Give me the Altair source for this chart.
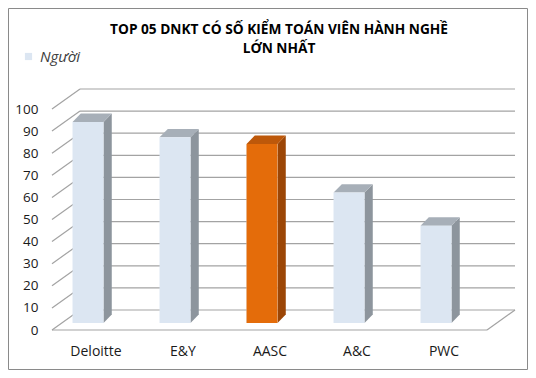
import altair as alt
import pandas as pd

# ---- data ----
categories = ["Deloitte", "E&Y", "AASC", "A&C", "PWC"]
values = [91, 84, 81, 59, 44]
highlight = "AASC"
series_name = "Người"
y_ticks = [0, 10, 20, 30, 40, 50, 60, 70, 80, 90, 100]
title_lines = ["TOP 05 DNKT CÓ SỐ KIỂM TOÁN VIÊN HÀNH NGHỀ", "LỚN NHẤT"]

# ---- style / pseudo-3D geometry (in scale units) ----
W, H = 435, 221
WALL_DX, WALL_DY = 0.322, 9.05      # depth of back wall
BAR_C, BAR_W = 0.414, 0.356          # bar centre within band, bar width
BAR_B = 3.17                         # bar sits slightly behind front edge
BAR_DX, BAR_DY = 0.095, 3.8          # bar depth
N = len(categories)

LIGHT = {"front": "#dce6f2", "side": "#8d959d", "top": "#a7afb8"}
ORANGE = {"front": "#e46c0a", "side": "#9c4606", "top": "#bd580a"}
GRID = "#a3a3a3"
FONT = "Open Sans"

# wall / floor segments derived from ticks
seg = []
for t in y_ticks:
    seg.append({"x": 0, "y": t, "x2": WALL_DX, "y2": t + WALL_DY})
    seg.append({"x": WALL_DX, "y": t + WALL_DY, "x2": N + WALL_DX, "y2": t + WALL_DY})
seg.append({"x": 0, "y": 0, "x2": N, "y2": 0})
seg.append({"x": N, "y": 0, "x2": N + WALL_DX, "y2": WALL_DY})
seg_df = pd.DataFrame(seg)

front, side, top = [], [], []
for i, (c, v) in enumerate(zip(categories, values)):
    pal = ORANGE if c == highlight else LIGHT
    xl = i + BAR_C - BAR_W / 2
    xr = i + BAR_C + BAR_W / 2
    yb, yt = BAR_B, v + BAR_B
    front.append({"bar": c, "x": xl, "x2": xr, "y": yb, "y2": yt,
                  "series": series_name, "col": pal["front"], "hl": c == highlight})
    side += [
        {"bar": c, "x": xr, "y": yt, "y2": yb, "col": pal["side"]},
        {"bar": c, "x": xr + BAR_DX, "y": yt + BAR_DY, "y2": yb + BAR_DY, "col": pal["side"]},
    ]
    top += [
        {"bar": c, "x": xl, "y": yt, "y2": yt, "col": pal["top"]},
        {"bar": c, "x": xl + BAR_DX, "y": yt + BAR_DY, "y2": yt, "col": pal["top"]},
        {"bar": c, "x": xr, "y": yt + BAR_DY, "y2": yt, "col": pal["top"]},
        {"bar": c, "x": xr + BAR_DX, "y": yt + BAR_DY, "y2": yt + BAR_DY, "col": pal["top"]},
    ]
front_df = pd.DataFrame(front)
side_df = pd.DataFrame(side)
top_df = pd.DataFrame(top)

label_arr = "[" + ",".join("'" + c + "'" for c in categories) + "]"

xs = alt.Scale(domain=[0, N], nice=False, zero=False)
ys = alt.Scale(domain=[0, 100], nice=False, zero=False)

x_axis = alt.Axis(values=[i + 0.5 for i in range(N)], labelExpr=label_arr + "[floor(datum.value)]",
                  domain=False, ticks=False, grid=False, title=None, labelPadding=14,
                  labelFont=FONT, labelFontSize=14, labelColor="#1a1a1a", labelAngle=0,
                  labelOverlap=False)
y_axis = alt.Axis(values=y_ticks, domain=False, ticks=False, grid=False, title=None,
                  labelPadding=14, labelFont=FONT, labelFontSize=13.5, labelColor="#1a1a1a",
                  labelOverlap=False)


def X(f):
    return alt.X(f, scale=xs, axis=x_axis)


def Y(f, **kw):
    return alt.Y(f, scale=ys, axis=y_axis, **kw)


one = alt.Data(values=[{}])

border = alt.Chart(one).mark_rect(
    fill=None, stroke="#8a8a8a", strokeWidth=1
).encode(x=alt.value(-43.5), x2=alt.value(475.5), y=alt.value(-100.5), y2=alt.value(260.5))

title = alt.Chart(one).mark_text(
    text=title_lines, font=FONT, fontSize=13.7, fontWeight="bold", color="#000000",
    lineHeight=19, align="center", baseline="alphabetic"
).encode(x=alt.value(227), y=alt.value(-75))

walls = alt.Chart(seg_df).mark_rule(color=GRID, strokeWidth=1.2).encode(
    x=X("x:Q"), y=Y("y:Q"), x2="x2:Q", y2="y2:Q",
)

front_layer = alt.Chart(front_df).mark_rect().encode(
    x=X("x:Q"), x2="x2:Q", y=Y("y:Q"), y2="y2:Q",
    color=alt.Color("series:N", scale=alt.Scale(domain=[series_name], range=[LIGHT["front"]]),
                    legend=alt.Legend(title=None, orient="none", legendX=-31, legendY=-60,
                                      symbolType="square", symbolSize=52, symbolStrokeWidth=0,
                                      labelFont=FONT, labelFontSize=15, labelFontStyle="italic",
                                      labelColor="#404040", labelOffset=4)),
)
front_hl = alt.Chart(front_df).transform_filter("datum.hl").mark_rect(color=ORANGE["front"]).encode(
    x=X("x:Q"), x2="x2:Q", y=Y("y:Q"), y2="y2:Q",
)

side_layer = alt.Chart(side_df).mark_area(orient="vertical").encode(
    x=X("x:Q"), y=Y("y:Q", stack=None), y2="y2:Q",
    detail="bar:N",
    fill=alt.Fill("col:N", scale=None),
)
top_layer = alt.Chart(top_df).mark_area(orient="vertical").encode(
    x=X("x:Q"), y=Y("y:Q", stack=None), y2="y2:Q",
    detail="bar:N",
    fill=alt.Fill("col:N", scale=None),
)

chart = alt.layer(border, title, walls, side_layer, top_layer, front_layer, front_hl).properties(
    width=W, height=H,
    autosize=alt.AutoSizeParams(type="none"),
    padding={"left": 44, "top": 101, "right": 41, "bottom": 40},
    background="white",
).configure_view(stroke=None)

chart.save("out.html", embed_options={"renderer": "svg", "actions": False})
